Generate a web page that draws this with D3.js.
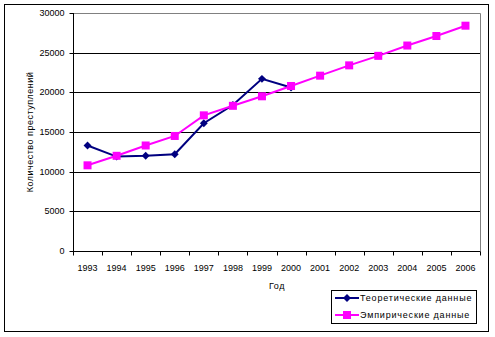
<!DOCTYPE html>
<html><head><meta charset="utf-8">
<script src="https://cdn.jsdelivr.net/npm/d3@7"></script>
<style>body{margin:0;background:#fff}svg{display:block;font-family:"Liberation Sans",Arial,sans-serif}</style>
</head><body><svg id="c" width="495" height="337"></svg>
<script>
const years = ["1993","1994","1995","1996","1997","1998","1999","2000","2001","2002","2003","2004","2005","2006"];
const theoretical = [13300,11900,12000,12200,16100,18400,21700,20600];
const empirical = [10800,12000,13300,14500,17100,18300,19500,20800,22100,23400,24600,25900,27100,28400];
const yTicks = [0,5000,10000,15000,20000,25000,30000];
const seriesNames = ["Теоретические данные","Эмпирические данные"];

const svg = d3.select("#c");
const L=73, R=480, T=13, B=251;
const x = d3.scaleBand().domain(years).range([L,R]).paddingInner(0).paddingOuter(0);
const y = d3.scaleLinear().domain([0,30000]).range([B,T]);

svg.append("rect").attr("x",4.5).attr("y",4.5).attr("width",484).attr("height",327).attr("fill","#fff").attr("stroke","#000").attr("stroke-width",1);

// grid
svg.append("g").selectAll("line").data(yTicks.filter(d=>d>0&&d<30000)).join("line")
  .attr("x1",L).attr("x2",R).attr("y1",d=>Math.round(y(d))+0.5).attr("y2",d=>Math.round(y(d))+0.5).attr("stroke","#000");
// plot border top/right gray
svg.append("path").attr("d",`M${L},${T+0.5}H${R+0.5}V${B}`).attr("fill","none").attr("stroke","#808080");

// y axis
const ya = svg.append("g").attr("transform",`translate(${L+0.5},0)`).call(d3.axisLeft(y).tickValues(yTicks).tickSize(4).tickPadding(5).tickFormat(d3.format("d")));
ya.select(".domain").attr("d",`M0,${T}V${B}`).attr("stroke","#000");
ya.selectAll("text").attr("font-size","9px").attr("fill","#000").style("font-family","Liberation Sans, Arial, sans-serif");
ya.selectAll(".tick").attr("transform",d=>`translate(0,${Math.round(y(d))+0.5})`);

// x axis
const xa = svg.append("g").attr("transform",`translate(0,${B+0.5})`);
xa.append("line").attr("x1",L).attr("x2",R+0.5).attr("stroke","#000");
const bounds = years.map(d=>x(d)).concat([R]);
xa.selectAll("line.t").data(bounds).join("line").attr("class","t")
  .attr("x1",d=>Math.round(d)+0.5).attr("x2",d=>Math.round(d)+0.5).attr("y1",0).attr("y2",4).attr("stroke","#000");
xa.selectAll("text").data(years).join("text")
  .attr("x",d=>x(d)+x.bandwidth()/2).attr("y",19).attr("text-anchor","middle").attr("font-size","9px").text(d=>d);

// axis titles
svg.append("text").attr("x",277).attr("y",289).attr("text-anchor","middle").attr("font-size","9px").attr("letter-spacing","0.6px").text("Год");
svg.append("text").attr("transform","translate(33,132) rotate(-90)").attr("text-anchor","middle").attr("font-size","9px").attr("letter-spacing","0.5px").text("Количество преступлений");

const cx = (d,i)=>x(years[i])+x.bandwidth()/2;
const line = d3.line().x(cx).y(d=>y(d));
const diamond = d3.symbol().type(d3.symbolDiamond2).size(40);

svg.append("path").datum(theoretical).attr("d",line).attr("fill","none").attr("stroke","#000080").attr("stroke-width",2);
svg.append("g").selectAll("path").data(theoretical).join("path")
  .attr("transform",(d,i)=>`translate(${cx(d,i)},${y(d)})`).attr("d",diamond).attr("fill","#000080");

svg.append("path").datum(empirical).attr("d",line).attr("fill","none").attr("stroke","#FF00FF").attr("stroke-width",2);
svg.append("g").selectAll("rect").data(empirical).join("rect")
  .attr("x",(d,i)=>cx(d,i)-4).attr("y",d=>y(d)-4).attr("width",8).attr("height",8).attr("fill","#FF00FF");

// legend
const lg = svg.append("g");
lg.append("rect").attr("x",331.5).attr("y",290.5).attr("width",145).attr("height",33).attr("fill","#fff").attr("stroke","#000");
const cols = ["#000080","#FF00FF"];
[0,1].forEach(i=>{
  const yy = 298 + i*17;
  lg.append("line").attr("x1",335).attr("x2",359).attr("y1",yy).attr("y2",yy).attr("stroke",cols[i]).attr("stroke-width",2);
  if(i===0) lg.append("path").attr("transform",`translate(347,${yy})`).attr("d",diamond).attr("fill",cols[i]);
  else lg.append("rect").attr("x",343).attr("y",yy-4).attr("width",8).attr("height",8).attr("fill",cols[i]);
  lg.append("text").attr("x",360).attr("y",yy+3).attr("font-size","9px").attr("letter-spacing","0.8px").text(seriesNames[i]);
});
</script></body></html>
